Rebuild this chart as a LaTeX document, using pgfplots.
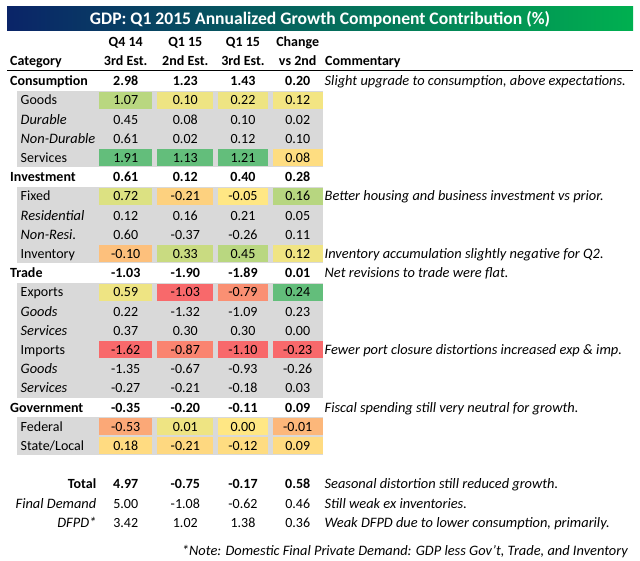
\documentclass[border=0pt]{standalone}
\usepackage{fontspec}
\setmainfont{Carlito}
\usepackage{pgfplots}
\usepackage{pgfplotstable}
\pgfplotsset{compat=1.18}

\definecolor{gridgray}{HTML}{D9D9D9}
\definecolor{navy}{HTML}{0A2468}
\definecolor{tgreen}{HTML}{00B050}
\definecolor{gA}{HTML}{B9D780}
\definecolor{gG}{HTML}{63BE7B}
\definecolor{yA}{HTML}{EEE483}
\definecolor{yB}{HTML}{F3E583}
\definecolor{oA}{HTML}{FEDD81}
\definecolor{yC}{HTML}{DCE182}
\definecolor{oB}{HTML}{FDD17F}
\definecolor{yD}{HTML}{FFE784}
\definecolor{gB}{HTML}{B7D680}
\definecolor{oC}{HTML}{FDC07C}
\definecolor{gC}{HTML}{C9DB81}
\definecolor{yE}{HTML}{F0E483}
\definecolor{rR}{HTML}{F8696B}
\definecolor{rS}{HTML}{FA9073}
\definecolor{rT}{HTML}{FA8470}
\definecolor{oD}{HTML}{FBA877}
\definecolor{oE}{HTML}{FCB77A}
\definecolor{oF}{HTML}{FFDB81}
\definecolor{oG}{HTML}{FED880}
\definecolor{oH}{HTML}{FEDC81}

% bold rows: y center, Q4 14 3rd, Q1 15 2nd, Q1 15 3rd, change
\pgfplotstableread{
y a b c d
81.0 2.98 1.23 1.43 0.20
177.0 0.61 0.12 0.40 0.28
273.0 -1.03 -1.90 -1.89 0.01
407.4 -0.35 -0.20 -0.11 0.09
484.2 4.97 -0.75 -0.17 0.58
}\boldrows

\pgfplotstableread{
y a b c d
100.2 1.07 0.10 0.22 0.12
119.4 0.45 0.08 0.10 0.02
138.6 0.61 0.02 0.12 0.10
157.8 1.91 1.13 1.21 0.08
196.2 0.72 -0.21 -0.05 0.16
215.4 0.12 0.16 0.21 0.05
234.6 0.60 -0.37 -0.26 0.11
253.8 -0.10 0.33 0.45 0.12
292.2 0.59 -1.03 -0.79 0.24
311.4 0.22 -1.32 -1.09 0.23
330.6 0.37 0.30 0.30 0.00
349.8 -1.62 -0.87 -1.10 -0.23
369.0 -1.35 -0.67 -0.93 -0.26
388.2 -0.27 -0.21 -0.18 0.03
426.6 -0.53 0.01 0.00 -0.01
445.8 0.18 -0.21 -0.12 0.09
503.4 5.00 -1.08 -0.62 0.46
522.6 3.42 1.02 1.38 0.36
}\normalrows

% coloured cells: x centre, y centre, half width, colour
\pgfplotstableread{
x y hw col
125.7 100.2 26.7 gA
185.3 100.2 28.0 yA
243.0 100.2 24.7 yA
297.7 100.2 25.0 yB
125.7 157.8 26.7 gG
185.3 157.8 28.0 gG
243.0 157.8 24.7 gG
297.7 157.8 25.0 oA
125.7 196.2 26.7 yC
185.3 196.2 28.0 oB
243.0 196.2 24.7 yD
297.7 196.2 25.0 gB
125.7 253.8 26.7 oC
185.3 253.8 28.0 gC
243.0 253.8 24.7 gA
297.7 253.8 25.0 yE
125.7 292.2 26.7 yA
185.3 292.2 28.0 rR
243.0 292.2 24.7 rS
297.7 292.2 25.0 gG
125.7 349.8 26.7 rR
185.3 349.8 28.0 rT
243.0 349.8 24.7 rR
297.7 349.8 25.0 rR
125.7 426.6 26.7 oD
185.3 426.6 28.0 yA
243.0 426.6 24.7 yD
297.7 426.6 25.0 oE
125.7 445.8 26.7 oF
185.3 445.8 28.0 oG
243.0 445.8 24.7 oH
297.7 445.8 25.0 oF
}\cells

\pgfdeclareplotmark{cell}{%
  \pgfpathrectangle{\pgfpoint{-\cw*1pt}{-8.4pt}}{\pgfpoint{2*\cw*1pt}{16.8pt}}%
  \pgfusepathqfill}

\newcommand{\base}{\fontsize{14}{16}\selectfont}
\newcommand{\ital}{\fontsize{14.4}{16}\selectfont\itshape}

\pgfplotsset{
  numcol/.style={only marks, mark=none, nodes near coords, point meta=explicit symbolic,
    every node near coord/.style={anchor=base, yshift=-4.7pt, text=black, inner sep=0pt, font=\base}},
  numbold/.style={only marks, mark=none, nodes near coords, point meta=explicit symbolic,
    every node near coord/.style={anchor=base, yshift=-4.7pt, text=black, inner sep=0pt, font=\base\bfseries}},
}

\begin{document}
\begin{tikzpicture}
\begin{axis}[
  width=640pt, height=561pt, scale only axis,
  xmin=0, xmax=640, ymin=0, ymax=561, y dir=reverse,
  hide axis, clip=false,
]
\fill[white] (axis cs:0,0) rectangle (axis cs:640,561);
% title bar
\shade[left color=navy, right color=tgreen] (axis cs:7,6.5) rectangle (axis cs:633,30.5);
\node[text=white, font=\fontsize{17.6}{20}\selectfont\bfseries, anchor=base] at (axis cs:320,24.5) {GDP: Q1 2015 Annualized Growth Component Contribution (\%)};

% header
\begin{scope}[every node/.style={font=\base\bfseries, anchor=base, inner sep=0pt}]
\node at (axis cs:125.7,46.7) {Q4 14};
\node at (axis cs:125.7,65.5) {3rd Est.};
\node at (axis cs:185.3,46.7) {Q1 15};
\node at (axis cs:185.3,65.5) {2nd Est.};
\node at (axis cs:243,46.7) {Q1 15};
\node at (axis cs:243,65.5) {3rd Est.};
\node at (axis cs:297.7,46.7) {Change};
\node at (axis cs:297.7,65.5) {vs 2nd};
\node[anchor=base west] at (axis cs:10,65.5) {Category};
\node[anchor=base west] at (axis cs:325,65.5) {Commentary};
\end{scope}
\draw[black, line width=1pt] (axis cs:7,70.5) -- (axis cs:633,70.5);

% grey blocks
\fill[gridgray] (axis cs:17,90.6) rectangle (axis cs:323,167.4);
\fill[gridgray] (axis cs:17,186.6) rectangle (axis cs:323,263.4);
\fill[gridgray] (axis cs:17,282.6) rectangle (axis cs:323,397.8);
\fill[gridgray] (axis cs:17,417.0) rectangle (axis cs:323,455.4);

% coloured cells
\addplot[scatter, only marks, mark=cell,
  point meta=explicit symbolic,
  visualization depends on={\thisrow{hw}\as\cw},
  scatter/@pre marker code/.code={\scope[fill=\pgfplotspointmeta]},
  scatter/@post marker code/.code={\endscope}]
  table[x=x, y=y, meta=col] {\cells};

% numbers
\addplot[numbold] table[x expr=125.7, y=y, meta=a] {\boldrows};
\addplot[numbold] table[x expr=185.3, y=y, meta=b] {\boldrows};
\addplot[numbold] table[x expr=243.0, y=y, meta=c] {\boldrows};
\addplot[numbold] table[x expr=297.7, y=y, meta=d] {\boldrows};
\addplot[numcol] table[x expr=125.7, y=y, meta=a] {\normalrows};
\addplot[numcol] table[x expr=185.3, y=y, meta=b] {\normalrows};
\addplot[numcol] table[x expr=243.0, y=y, meta=c] {\normalrows};
\addplot[numcol] table[x expr=297.7, y=y, meta=d] {\normalrows};

% category labels
\begin{scope}[every node/.style={font=\base, anchor=base west, inner sep=0pt}]
\node[font=\base\bfseries] at (axis cs:10,85.7) {Consumption};
\node at (axis cs:20.5,104.9) {Goods};
\node[font=\ital] at (axis cs:20.5,124.1) {Durable};
\node[font=\ital] at (axis cs:20.5,143.3) {Non-Durable};
\node at (axis cs:20.5,162.5) {Services};
\node[font=\base\bfseries] at (axis cs:10,181.7) {Investment};
\node at (axis cs:20.5,200.9) {Fixed};
\node[font=\ital] at (axis cs:20.5,220.1) {Residential};
\node[font=\ital] at (axis cs:20.5,239.3) {Non-Resi.};
\node at (axis cs:20.5,258.5) {Inventory};
\node[font=\base\bfseries] at (axis cs:10,277.7) {Trade};
\node at (axis cs:20.5,296.9) {Exports};
\node[font=\ital] at (axis cs:20.5,316.1) {Goods};
\node[font=\ital] at (axis cs:20.5,335.3) {Services};
\node at (axis cs:20.5,354.5) {Imports};
\node[font=\ital] at (axis cs:20.5,373.7) {Goods};
\node[font=\ital] at (axis cs:20.5,392.9) {Services};
\node[font=\base\bfseries] at (axis cs:10,412.1) {Government};
\node at (axis cs:20.5,431.3) {Federal};
\node at (axis cs:20.5,450.5) {State/Local};
\node[font=\base\bfseries, anchor=base east] at (axis cs:96.5,488.9) {Total};
\node[font=\ital, anchor=base east] at (axis cs:96.5,508.1) {Final Demand};
\node[font=\ital, anchor=base east] at (axis cs:96.5,527.3) {DFPD*};
\end{scope}

% commentary
\begin{scope}[every node/.style={font=\ital, anchor=base west, inner sep=0pt}]
\node at (axis cs:324.5,85.7) {Slight upgrade to consumption, above expectations.};
\node at (axis cs:324.5,200.9) {Better housing and business investment vs prior.};
\node at (axis cs:324.5,258.5) {Inventory accumulation slightly negative for Q2.};
\node at (axis cs:324.5,277.7) {Net revisions to trade were flat.};
\node at (axis cs:324.5,354.5) {Fewer port closure distortions increased exp \& imp.};
\node at (axis cs:324.5,412.1) {Fiscal spending still very neutral for growth.};
\node at (axis cs:324.5,488.9) {Seasonal distortion still reduced growth.};
\node at (axis cs:324.5,508.1) {Still weak ex inventories.};
\node at (axis cs:324.5,527.3) {Weak DFPD due to lower consumption, primarily.};
\node[anchor=base east] at (axis cs:628,555.5) {*Note: Domestic Final Private Demand: GDP less Gov't, Trade, and Inventory};
\end{scope}
\end{axis}
\end{tikzpicture}
\end{document}
